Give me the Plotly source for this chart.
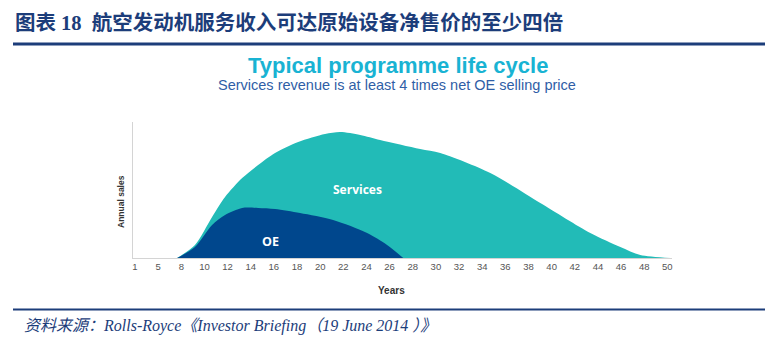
import plotly.graph_objects as go

# ---- data (x = position along the year axis, in tick-slot units) ----
tick_labels = ["1", "5", "8", "10", "12", "14", "16", "18", "20", "22", "24", "26",
               "28", "30", "32", "34", "36", "38", "40", "42", "44", "46", "48", "50"]

services_x = [1.82, 2.59, 3.33, 3.89, 4.63, 5.32, 6.05, 7.05, 8.21, 8.86, 9.73,
              10.59, 12.32, 13.19, 15.35, 17.51, 19.67, 20.97, 21.83, 23.13]
services_y = [0, 13, 41, 61, 80, 93, 105, 116, 124, 126, 123,
              118, 109, 105, 85, 55, 25, 11, 3, 0]

oe_x = [1.82, 2.59, 3.33, 3.89, 4.63, 5.32, 6.05, 7.13, 8.56, 10.03, 10.89, 11.59]
oe_y = [0, 11, 33, 43, 50, 50, 49, 45, 38, 25, 13, 0]

# ---- layout geometry (pixels) ----
W, H = 775, 343
L, R, T, B = 133, 672, 122, 258


def px(x):
    return (x - L) / (R - L)


def py(y):
    return (B - y) / (B - T)


NAVY = "#1c3d7a"
SERV = "#22bbb7"
OE = "#00478d"

fig = go.Figure()
fig.add_trace(go.Scatter(x=services_x, y=services_y, mode="lines",
                         line=dict(color=SERV, width=0, shape="spline", smoothing=0.8),
                         fill="tozeroy", fillcolor=SERV, hoverinfo="skip"))
fig.add_trace(go.Scatter(x=oe_x, y=oe_y, mode="lines",
                         line=dict(color=OE, width=0, shape="spline", smoothing=0.8),
                         fill="tozeroy", fillcolor=OE, hoverinfo="skip"))

fig.update_layout(
    width=W, height=H,
    margin=dict(l=L, r=W - R, t=T, b=H - B, pad=0),
    paper_bgcolor="white", plot_bgcolor="white",
    showlegend=False,
    xaxis=dict(range=[-0.086, 23.2], tickmode="array",
               tickvals=list(range(len(tick_labels))), ticktext=tick_labels,
               showgrid=False, zeroline=False, showline=True, linecolor="#d4d4d4",
               linewidth=1, ticks="", tickfont=dict(family="Liberation Sans", size=9.5, color="#555555"),
               fixedrange=True),
    yaxis=dict(range=[0, 136], showgrid=False, zeroline=False, showline=True,
               linecolor="#d4d4d4", linewidth=1, showticklabels=False, ticks="",
               fixedrange=True),
)

ann = []
# header
ann.append(dict(text="<b>图表 18  航空发动机服务收入可达原始设备净售价的至少四倍</b>",
                x=px(13), y=py(23), xanchor="left", yanchor="middle",
                font=dict(family="Liberation Serif, Noto Sans CJK SC", size=20.5, color=NAVY)))
# source
ann.append(dict(text="<i>资料来源：Rolls-Royce《Investor Briefing（19 June 2014 ）》</i>",
                x=px(22), y=py(326), xanchor="left", yanchor="middle",
                font=dict(family="Liberation Serif, Noto Sans CJK SC", size=16, color=NAVY)))
# chart title / subtitle
ann.append(dict(text="<b>Typical programme life cycle</b>", x=px(398), y=py(66),
                xanchor="center", yanchor="middle",
                font=dict(family="Liberation Sans", size=22, color="#19b3d3")))
ann.append(dict(text="Services revenue is at least 4 times net OE selling price", x=px(397), y=py(85),
                xanchor="center", yanchor="middle",
                font=dict(family="Liberation Sans", size=14.5, color="#2f5ea6")))
# area labels
ann.append(dict(text="<b>Services</b>", x=px(357), y=py(189), xanchor="center", yanchor="middle",
                font=dict(family="Open Sans", size=12, color="white")))
ann.append(dict(text="<b>OE</b>", x=px(270), y=py(241), xanchor="center", yanchor="middle",
                font=dict(family="Open Sans", size=12.5, color="white")))
# axis titles
ann.append(dict(text="<b>Years</b>", x=px(391), y=py(290), xanchor="center", yanchor="middle",
                font=dict(family="Liberation Sans", size=10, color="#333333")))
ann.append(dict(text="<b>Annual sales</b>", x=px(121), y=py(202), xanchor="center", yanchor="middle",
                textangle=-90, font=dict(family="Liberation Sans", size=8.5, color="#333333")))

for a in ann:
    a.update(xref="paper", yref="paper", showarrow=False)
fig.update_layout(annotations=ann)

fig.update_layout(shapes=[
    dict(type="line", xref="paper", yref="paper", x0=px(13), x1=px(765), y0=py(44), y1=py(44),
         line=dict(color=NAVY, width=3)),
    dict(type="line", xref="paper", yref="paper", x0=px(13), x1=px(765), y0=py(309.5), y1=py(309.5),
         line=dict(color=NAVY, width=2)),
])

fig.write_html("out.html", config={"displayModeBar": False})
